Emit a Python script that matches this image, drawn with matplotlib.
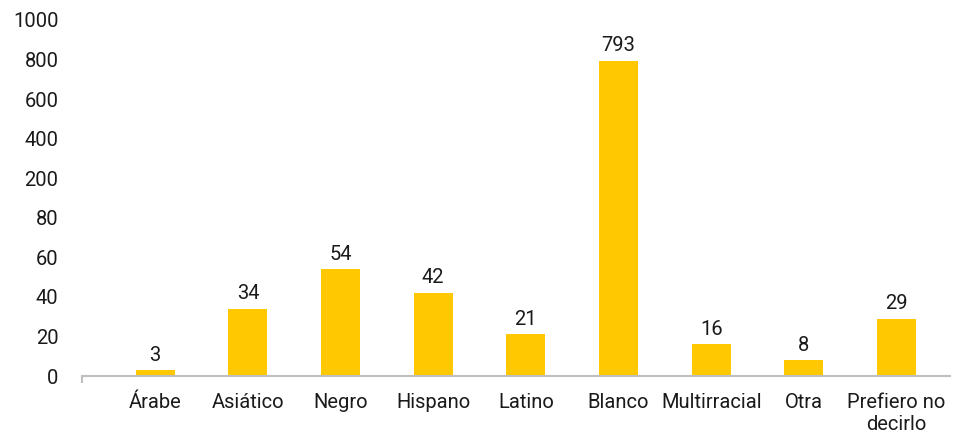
import numpy as np
import matplotlib
matplotlib.use('Agg')
from matplotlib import pyplot as plt

categories = ['Árabe', 'Asiático', 'Negro', 'Hispano', 'Latino', 'Blanco',
              'Multirracial', 'Otra', 'Prefiero no\ndecirlo']
values = [3, 34, 54, 42, 21, 793, 16, 8, 29]
yticks = [0, 20, 40, 60, 80, 200, 400, 600, 800, 1000]

plt.rcParams['font.family'] = ['Roboto', 'DejaVu Sans']

# broken y scale: 0-80 in steps of 20, then 80-1000 in steps of 200
real = [0, 80, 200, 1000]
pos = [0, 4, 5, 9]


def fwd(v):
    return np.interp(v, real, pos)


def inv(u):
    return np.interp(u, pos, real)


fig = plt.figure(figsize=(9.57, 4.34), dpi=100)
ax = fig.add_axes([0.0857, 0.1336, 0.9073, 0.8204])
ax.set_yscale('function', functions=(fwd, inv))

x = np.arange(len(categories))
bars = ax.bar(x, values, width=0.42, color='#FFC800', zorder=2)
ax.bar_label(bars, labels=[str(v) for v in values], padding=4,
             fontsize=14.5, color='#1a1a1a')

ax.set_ylim(0, 1000)
ax.set_xlim(-0.79, 8.58)
ax.set_yticks(yticks)
ax.set_yticklabels([str(t) for t in yticks])
ax.tick_params(axis='y', length=0, pad=17, labelsize=14.5, labelcolor='#1a1a1a')

ax.set_xticks(x)
ax.set_xticklabels(categories)
ax.tick_params(axis='x', length=0, pad=12, labelsize=14.5, labelcolor='#1a1a1a')
ax.set_xticks([-0.79], minor=True)
ax.tick_params(axis='x', which='minor', length=5, width=1.5, color='#bfbfbf')

for s in ['top', 'right', 'left']:
    ax.spines[s].set_visible(False)
ax.spines['bottom'].set_color('#bfbfbf')
ax.spines['bottom'].set_linewidth(1.5)

plt.savefig('out.png', dpi=100)
